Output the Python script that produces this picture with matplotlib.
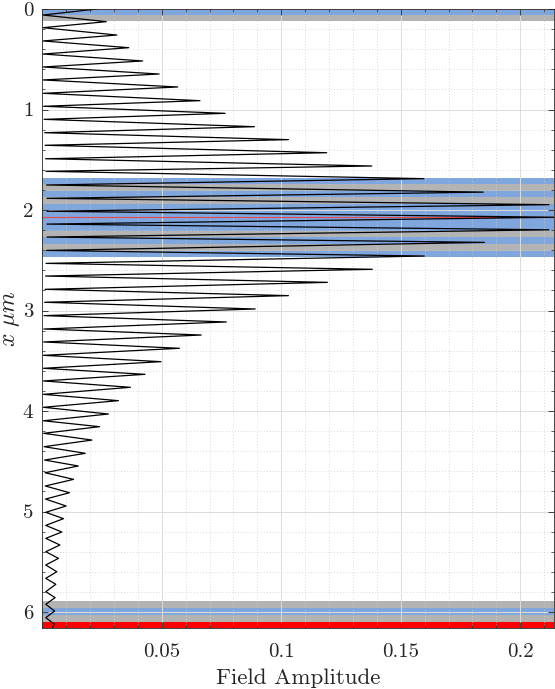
import numpy as np
import matplotlib
matplotlib.use("Agg")
import matplotlib.pyplot as plt
from matplotlib.ticker import FixedLocator, FixedFormatter

# ---------------- data ----------------
# start / end of the field profile
start_pos = [0.0]
start_amp = [0.0229]
end_pos = [6.162]
end_amp = [0.0042]

# local maxima of the field amplitude (depth in um, amplitude)
peak_pos = [0.126, 0.259, 0.385, 0.517, 0.647, 0.776, 0.912, 1.038, 1.171,
            1.300, 1.430, 1.562, 1.688, 1.822, 1.947, 2.072, 2.197, 2.322,
            2.458, 2.590, 2.720, 2.852, 2.985, 3.114, 3.244, 3.376, 3.509,
            3.635, 3.764, 3.897, 4.030, 4.156, 4.289, 4.421, 4.547, 4.680,
            4.813, 4.945, 5.071, 5.204, 5.333, 5.466, 5.599, 5.724, 5.857,
            5.990, 6.120]
peak_amp = [0.0268, 0.0312, 0.0362, 0.0420, 0.0489, 0.0567, 0.0660, 0.0765,
            0.0888, 0.1030, 0.1190, 0.1379, 0.1597, 0.1845, 0.2120, 0.2141,
            0.2120, 0.1850, 0.1598, 0.1381, 0.1193, 0.1030, 0.0891, 0.0770,
            0.0665, 0.0574, 0.0497, 0.0430, 0.0369, 0.0319, 0.0277, 0.0240,
            0.0208, 0.0180, 0.0151, 0.0131, 0.0114, 0.0100, 0.0089, 0.0082,
            0.0074, 0.0068, 0.0061, 0.0057, 0.0054, 0.0052, 0.0050]

# local minima of the field amplitude
trough_pos = [0.060, 0.186, 0.318, 0.448, 0.577, 0.706, 0.839, 0.968, 1.098,
              1.231, 1.356, 1.490, 1.615, 1.751, 1.884, 2.012, 2.140, 2.269,
              2.402, 2.531, 2.657, 2.789, 2.918, 3.051, 3.184, 3.313, 3.446,
              3.575, 3.701, 3.834, 3.963, 4.097, 4.222, 4.355, 4.488, 4.614,
              4.746, 4.876, 5.008, 5.138, 5.267, 5.400, 5.532, 5.665, 5.798,
              5.923, 6.056]
trough_amp = [0.0003, 0.0003, 0.0003, 0.0003, 0.0004, 0.0004, 0.0005, 0.0006,
              0.0008, 0.0010, 0.0012, 0.0014, 0.0016, 0.0018, 0.0020, 0.0020,
              0.0020, 0.0020, 0.0018, 0.0016, 0.0014, 0.0012, 0.0010, 0.0008,
              0.0007, 0.0006, 0.0005, 0.0005, 0.0005, 0.0005, 0.0005, 0.0005,
              0.0006, 0.0008, 0.0010, 0.0012, 0.0013, 0.0014, 0.0015, 0.0015,
              0.0015, 0.0015, 0.0015, 0.0015, 0.0015, 0.0015, 0.0015]

# layer stack (top, bottom in um) and material
layer_top = [0.000, 0.060, 1.678, 1.741, 1.808, 1.872, 1.936, 2.210, 2.270,
             2.340, 2.403, 5.890, 5.963, 6.030, 6.096]
layer_bottom = [0.060, 0.120, 1.741, 1.808, 1.872, 1.936, 2.210, 2.270, 2.340,
                2.403, 2.466, 5.963, 6.030, 6.096, 6.162]
layer_material = ["A", "B", "A", "B", "A", "B", "A", "B", "A",
                  "B", "A", "B", "A", "B", "S"]
marker_pos = [2.074]

x_ticks = [0.05, 0.1, 0.15, 0.2]
x_tick_labels = ["0.05", "0.1", "0.15", "0.2"]
y_ticks = [0, 1, 2, 3, 4, 5, 6]
y_tick_labels = ["0", "1", "2", "3", "4", "5", "6"]

# ---------------- styling ----------------
material_color = {"A": "#80a6de", "B": "#b3b3b3", "S": "#ff0000"}

plt.rcParams["mathtext.fontset"] = "cm"

W, H = 555, 689
fig = plt.figure(figsize=(W / 100, H / 100), dpi=100)
left_px, right_px, top_px, bottom_px = 42.2, 554.0, 9.0, 628.3
ax = fig.add_axes([left_px / W, 1 - bottom_px / H,
                   (right_px - left_px) / W, (bottom_px - top_px) / H])

for t, b, m in zip(layer_top, layer_bottom, layer_material):
    ax.axhspan(t, b, color=material_color[m], lw=0, zorder=1)
for p in marker_pos:
    ax.axhline(p, color="#e8474f", lw=0.8, zorder=2)

pos = np.array(start_pos + peak_pos + trough_pos + end_pos)
amp = np.array(start_amp + peak_amp + trough_amp + end_amp)
order = np.argsort(pos)
ax.plot(amp[order], pos[order], color="black", lw=0.9, zorder=3)

ax.set_xlim(0, 0.2141)
ax.set_ylim(6.162, 0)

ax.xaxis.set_major_locator(FixedLocator(x_ticks))
ax.xaxis.set_major_formatter(FixedFormatter(x_tick_labels))
ax.yaxis.set_major_locator(FixedLocator(y_ticks))
ax.yaxis.set_major_formatter(FixedFormatter(y_tick_labels))
ax.xaxis.set_minor_locator(FixedLocator(np.arange(0.01, 0.2141, 0.01)))
ax.yaxis.set_minor_locator(FixedLocator(np.arange(0.2, 6.162, 0.2)))

ax.tick_params(which="both", direction="in", top=True, right=True,
               color="#262626")
ax.tick_params(which="major", length=4.5, width=0.6, labelsize=15,
               labelfontfamily="cmr10", labelcolor="#262626")
ax.tick_params(which="minor", length=2.2, width=0.5)
ax.tick_params(axis="x", which="major", pad=11)
ax.tick_params(axis="y", which="major", pad=6.5)

ax.set_axisbelow("line")
ax.grid(which="major", color="#dcdcdc", lw=0.7, ls="-")
ax.grid(which="minor", color="#cfcfcf", lw=0.6, ls=(0, (1, 2.5)))

for s in ax.spines.values():
    s.set_color("#262626")
    s.set_linewidth(0.6)
    s.set_zorder(4)

ax.set_xlabel("Field Amplitude", fontsize=16.5, family="cmr10",
              color="#262626", labelpad=5)
ax.set_ylabel(r"$x\ \mu m$", fontsize=17, color="#262626")
ax.yaxis.set_label_coords(-0.04, 0.5)

fig.savefig("out.png", dpi=100)
